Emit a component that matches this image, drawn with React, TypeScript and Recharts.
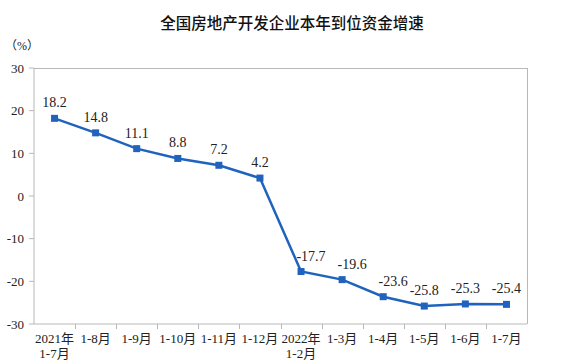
import React from 'react'
import { LineChart, Line, XAxis, YAxis, LabelList } from 'recharts'

const months = ['2021年\n1-7月', '1-8月', '1-9月', '1-10月', '1-11月', '1-12月', '2022年\n1-2月', '1-3月', '1-4月', '1-5月', '1-6月', '1-7月']
const growth = [18.2, 14.8, 11.1, 8.8, 7.2, 4.2, -17.7, -19.6, -23.6, -25.8, -25.3, -25.4]
const yTicks = [-30, -20, -10, 0, 10, 20, 30]

const W = 584
const H = 363
const TOP = 68
const X_AXIS_H = 39
const PLOT_LEFT = 34
const PLOT_RIGHT = 527
const PLOT_H = H - TOP - X_AXIS_H
const BAND = (PLOT_RIGHT - PLOT_LEFT) / months.length

const AXIS = '#b8b8b8'
const BLUE = '#1f63bf'
const SERIF = '"Liberation Serif", "Times New Roman", "Noto Sans CJK SC", serif'

const data = months.map((m, i) => ({ month: m, value: growth[i] }))

function XTick(props: any) {
  const { x, y, payload, index } = props
  const lines = String(payload.value).split('\n')
  const last = index === months.length - 1
  const edge = Math.round(x + BAND / 2) + 0.5
  return (
    <g>
      {!last && <line x1={edge} x2={edge} y1={y} y2={y + 5} stroke={AXIS} shapeRendering="crispEdges" />}
      {/* right edge of the plot frame */}
      {last && <line x1={edge} x2={edge} y1={y} y2={y - PLOT_H} stroke={AXIS} strokeWidth={1.2} shapeRendering="crispEdges" />}
      <text x={x} y={y + 19} textAnchor="middle" fontSize={13} fill="#222" fontFamily={SERIF}>
        {lines.map((l, i) => (
          <tspan key={i} x={x} dy={i === 0 ? 0 : 15}>{l}</tspan>
        ))}
      </text>
    </g>
  )
}

function YTick(props: any) {
  const { x, y, payload } = props
  const top = Math.round(y) + 0.5
  return (
    <g>
      {/* top edge of the plot frame */}
      {Number(payload.value) === 30 && (
        <line x1={PLOT_LEFT} x2={PLOT_RIGHT} y1={top} y2={top} stroke={AXIS} strokeWidth={1.2} shapeRendering="crispEdges" />
      )}
      <text x={x} y={y} dy={4.5} textAnchor="end" fontSize={13} fill="#222" fontFamily={SERIF}>
        {payload.value}
      </text>
    </g>
  )
}

function Square(props: any) {
  const { cx, cy } = props
  if (cx == null || cy == null) return null
  return <rect x={cx - 3.5} y={cy - 3.5} width={7} height={7} fill={BLUE} />
}

function PointLabel(props: any) {
  const { x, y, width, value, index } = props
  const cx = x + (width || 0) / 2
  // the steep drop pushes the first few 2022 labels to the right of their points
  const shift = index >= 6 && index <= 8 ? 10 : 0
  return (
    <text x={cx + shift} y={y - 11} textAnchor="middle" fill="#222" fontSize={14} fontFamily={SERIF}>
      {value}
    </text>
  )
}

export default function App() {
  return (
    <div style={{ position: 'absolute', left: 0, top: 0, width: W, height: H, background: '#fff' }}>
      <LineChart width={W} height={H} data={data} margin={{ top: TOP, right: W - PLOT_RIGHT, bottom: 0, left: 0 }}>
        <XAxis
          dataKey="month"
          interval={0}
          height={X_AXIS_H}
          stroke={AXIS}
          padding={{ left: BAND / 2, right: BAND / 2 }}
          tickLine={false}
          tickSize={0}
          tickMargin={0}
          tick={<XTick />}
        />
        <YAxis
          domain={[-30, 30]}
          ticks={yTicks}
          width={PLOT_LEFT}
          stroke={AXIS}
          tickSize={5}
          tickMargin={5}
          tick={<YTick />}
        />
        <Line
          dataKey="value"
          stroke={BLUE}
          strokeWidth={2.5}
          dot={<Square />}
          activeDot={false}
          isAnimationActive={false}
        >
          <LabelList dataKey="value" content={<PointLabel />} />
        </Line>
      </LineChart>
      <div style={{ position: 'absolute', left: 0, top: 11, width: W, textAlign: 'center', fontFamily: '"Noto Sans CJK SC", sans-serif', fontSize: 15.5, fontWeight: 500, color: '#111', pointerEvents: 'none' }}>
        全国房地产开发企业本年到位资金增速
      </div>
      <div style={{ position: 'absolute', left: 5, top: 36, fontFamily: SERIF, fontSize: 12, color: '#222', pointerEvents: 'none' }}>
        （%）
      </div>
    </div>
  )
}
